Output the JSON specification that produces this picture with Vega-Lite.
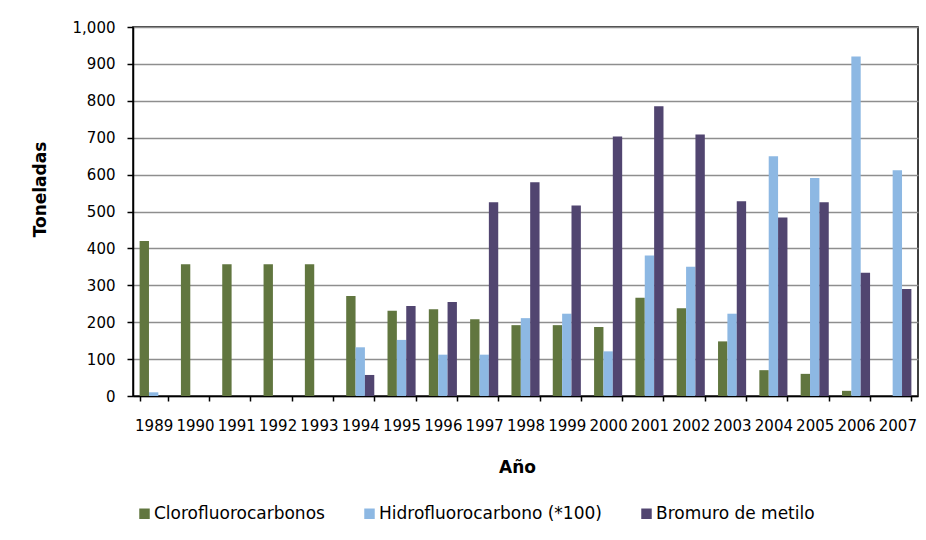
{
  "$schema": "https://vega.github.io/schema/vega-lite/v6.json",
  "width": 785,
  "height": 369,
  "autosize": "none",
  "padding": {"left": 133, "top": 27, "right": 8, "bottom": 144},
  "background": "white",
  "data": {
    "values": [
      {"year": "1989", "series": "Clorofluorocarbonos", "value": 420},
      {"year": "1989", "series": "Hidrofluorocarbono (*100)", "value": 10},
      {"year": "1990", "series": "Clorofluorocarbonos", "value": 357},
      {"year": "1991", "series": "Clorofluorocarbonos", "value": 357},
      {"year": "1992", "series": "Clorofluorocarbonos", "value": 357},
      {"year": "1993", "series": "Clorofluorocarbonos", "value": 357},
      {"year": "1994", "series": "Clorofluorocarbonos", "value": 271},
      {"year": "1994", "series": "Hidrofluorocarbono (*100)", "value": 132},
      {"year": "1994", "series": "Bromuro de metilo", "value": 57},
      {"year": "1995", "series": "Clorofluorocarbonos", "value": 231},
      {"year": "1995", "series": "Hidrofluorocarbono (*100)", "value": 152},
      {"year": "1995", "series": "Bromuro de metilo", "value": 244},
      {"year": "1996", "series": "Clorofluorocarbonos", "value": 235},
      {"year": "1996", "series": "Hidrofluorocarbono (*100)", "value": 112},
      {"year": "1996", "series": "Bromuro de metilo", "value": 255},
      {"year": "1997", "series": "Clorofluorocarbonos", "value": 208},
      {"year": "1997", "series": "Hidrofluorocarbono (*100)", "value": 112},
      {"year": "1997", "series": "Bromuro de metilo", "value": 525},
      {"year": "1998", "series": "Clorofluorocarbonos", "value": 192},
      {"year": "1998", "series": "Hidrofluorocarbono (*100)", "value": 211},
      {"year": "1998", "series": "Bromuro de metilo", "value": 579},
      {"year": "1999", "series": "Clorofluorocarbonos", "value": 192},
      {"year": "1999", "series": "Hidrofluorocarbono (*100)", "value": 223},
      {"year": "1999", "series": "Bromuro de metilo", "value": 516},
      {"year": "2000", "series": "Clorofluorocarbonos", "value": 187},
      {"year": "2000", "series": "Hidrofluorocarbono (*100)", "value": 121},
      {"year": "2000", "series": "Bromuro de metilo", "value": 703},
      {"year": "2001", "series": "Clorofluorocarbonos", "value": 266},
      {"year": "2001", "series": "Hidrofluorocarbono (*100)", "value": 381},
      {"year": "2001", "series": "Bromuro de metilo", "value": 785},
      {"year": "2002", "series": "Clorofluorocarbonos", "value": 238},
      {"year": "2002", "series": "Hidrofluorocarbono (*100)", "value": 350},
      {"year": "2002", "series": "Bromuro de metilo", "value": 709},
      {"year": "2003", "series": "Clorofluorocarbonos", "value": 148},
      {"year": "2003", "series": "Hidrofluorocarbono (*100)", "value": 223},
      {"year": "2003", "series": "Bromuro de metilo", "value": 528},
      {"year": "2004", "series": "Clorofluorocarbonos", "value": 70},
      {"year": "2004", "series": "Hidrofluorocarbono (*100)", "value": 650},
      {"year": "2004", "series": "Bromuro de metilo", "value": 484},
      {"year": "2005", "series": "Clorofluorocarbonos", "value": 60},
      {"year": "2005", "series": "Hidrofluorocarbono (*100)", "value": 591},
      {"year": "2005", "series": "Bromuro de metilo", "value": 525},
      {"year": "2006", "series": "Clorofluorocarbonos", "value": 14},
      {"year": "2006", "series": "Hidrofluorocarbono (*100)", "value": 920},
      {"year": "2006", "series": "Bromuro de metilo", "value": 334},
      {"year": "2007", "series": "Hidrofluorocarbono (*100)", "value": 612},
      {"year": "2007", "series": "Bromuro de metilo", "value": 290}
    ]
  },
  "mark": {"type": "bar"},
  "encoding": {
    "x": {
      "field": "year",
      "type": "nominal",
      "scale": {"paddingInner": 0.32, "paddingOuter": 0.16},
      "axis": {
        "tickBand": "extent",
        "labelAngle": 0,
        "labelFont": "DejaVu Sans",
        "labelFontSize": 15,
        "labelColor": "black",
        "labelPadding": 17,
        "tickColor": "black",
        "tickSize": 5,
        "tickWidth": 1.5,
        "domainColor": "black",
        "domainWidth": 1.5,
        "grid": false,
        "title": "Año",
        "titleFont": "DejaVu Sans",
        "titleFontSize": 17,
        "titleFontWeight": "bold",
        "titleColor": "black",
        "titleX": 384,
        "titleY": 71,
        "titleBaseline": "middle",
        "titleAlign": "center"
      }
    },
    "xOffset": {
      "field": "series",
      "type": "nominal",
      "scale": {"domain": ["Clorofluorocarbonos", "Hidrofluorocarbono (*100)", "Bromuro de metilo"]}
    },
    "y": {
      "field": "value",
      "type": "quantitative",
      "scale": {"domain": [0, 1000], "nice": false},
      "axis": {
        "values": [0, 100, 200, 300, 400, 500, 600, 700, 800, 900, 1000],
        "format": ",.0f",
        "labelFont": "DejaVu Sans",
        "labelFontSize": 15,
        "labelColor": "black",
        "labelPadding": 12,
        "tickColor": "black",
        "tickSize": 6,
        "tickWidth": 1.5,
        "domainColor": "black",
        "domainWidth": 1.5,
        "grid": true,
        "gridColor": "#8e8e8e",
        "gridWidth": 1.5,
        "title": "Toneladas",
        "titleFont": "DejaVu Sans",
        "titleFontSize": 17,
        "titleFontWeight": "bold",
        "titleColor": "black",
        "titleX": -93,
        "titleY": 162,
        "titleBaseline": "middle",
        "titleAlign": "center"
      }
    },
    "color": {
      "field": "series",
      "type": "nominal",
      "scale": {
        "domain": ["Clorofluorocarbonos", "Hidrofluorocarbono (*100)", "Bromuro de metilo"],
        "range": ["#61763f", "#8db8e3", "#514570"]
      },
      "legend": {
        "title": null,
        "orient": "none",
        "direction": "horizontal",
        "legendX": 3,
        "legendY": 478,
        "symbolType": "square",
        "symbolSize": 110,
        "symbolStrokeWidth": 0,
        "symbolOpacity": 1,
        "labelFont": "DejaVu Sans",
        "labelFontSize": 17,
        "labelColor": "black",
        "labelLimit": 400,
        "labelOffset": 1,
        "columnPadding": 36
      }
    }
  },
  "config": {
    "view": {"stroke": "black", "strokeWidth": 1.5}
  }
}
